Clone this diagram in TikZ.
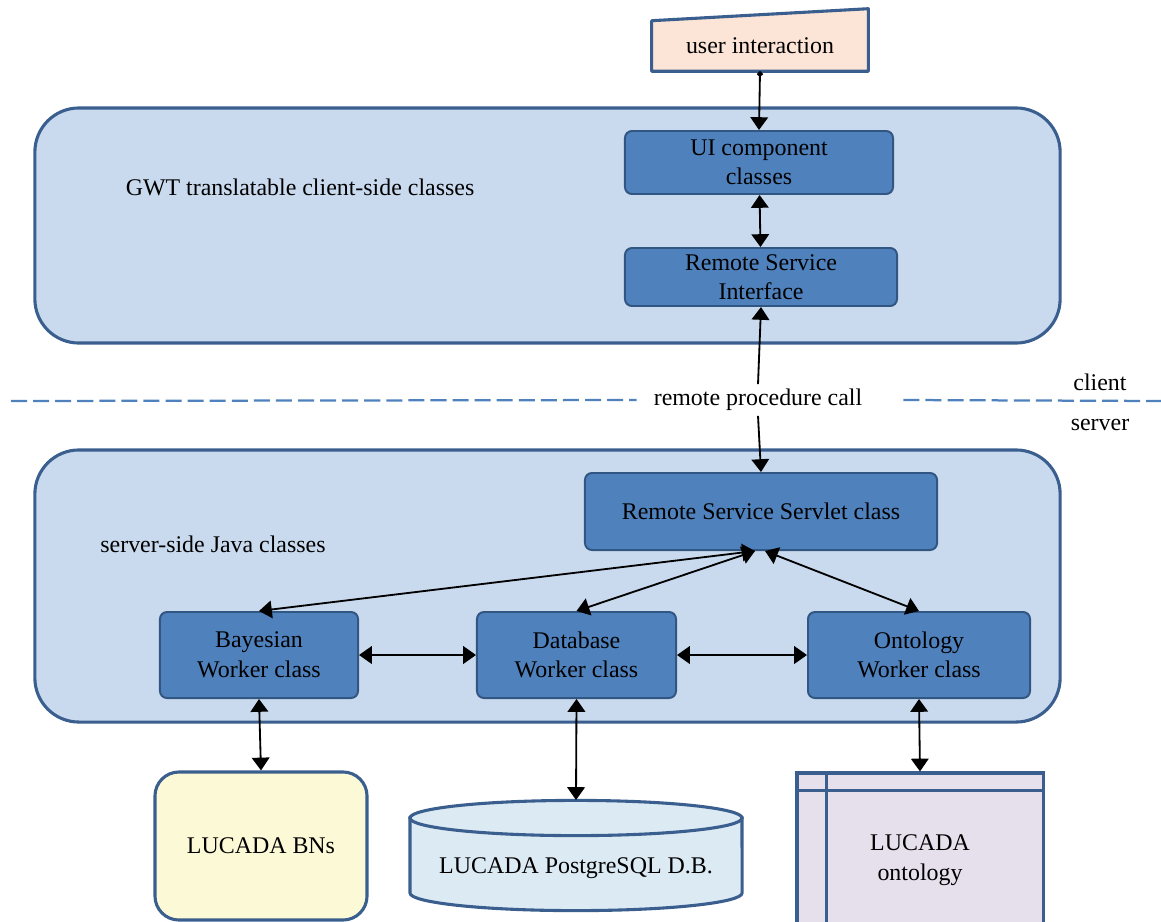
\documentclass[tikz,border=0pt]{standalone}
\usepackage{fontspec}
\setmainfont{Liberation Serif}
\usetikzlibrary{arrows.meta, positioning, shapes.geometric}
\definecolor{frameblue}{RGB}{58,95,143}
\definecolor{panelblue}{RGB}{201,218,238}
\definecolor{classblue}{RGB}{79,129,189}
\definecolor{classedge}{RGB}{50,86,130}
\definecolor{peach}{RGB}{252,228,214}
\definecolor{paleyellow}{RGB}{252,249,214}
\definecolor{dbblue}{RGB}{220,234,244}
\definecolor{lavender}{RGB}{229,224,236}
\definecolor{dashblue}{RGB}{79,129,189}

\begin{document}
\begin{tikzpicture}[x=0.025cm, y=-0.025cm, font=\fontsize{17}{21}\selectfont,
  panel/.style={draw=frameblue, line width=2.2pt, fill=panelblue, rounded corners=1.1cm},
  cls/.style={draw=classedge, line width=1.4pt, fill=classblue, rounded corners=5pt, align=center, inner sep=2pt},
  store/.style={draw=frameblue, line width=2.2pt, align=center},
  link/.style={{Triangle[length=3.2mm, width=4.4mm]}-{Triangle[length=3.2mm, width=4.4mm]}, line width=1.3pt},
  uplink/.style={-{Triangle[length=3.2mm, width=4.4mm]}, line width=1.3pt}]
  \useasboundingbox (0,0) rectangle (1161,921);

  % client side
  \node[panel, minimum width=25.625cm, minimum height=5.875cm] (client) at (547.5,225.5) {};
  \node (gwt) at (300,187) {GWT translatable client-side classes};
  \node[cls, minimum width=6.7cm, minimum height=1.575cm] (uic) at (759,162.5) {UI component\\classes};
  \node[cls, minimum width=6.8cm, minimum height=1.45cm] (rsi) at (761,277) {Remote Service\\Interface};

  % user interaction (manual input shape)
  \node[minimum width=5.4cm, minimum height=1.25cm] (user) at (760,46) {};
  \fill[peach] (user.north west) -- ([yshift=0.3cm]user.north east) -- (user.south east) -- (user.south west) -- cycle;
  \draw[frameblue, line width=2.2pt, line join=round] (user.north west) -- ([yshift=0.3cm]user.north east) -- (user.south east) -- (user.south west) -- cycle;
  \node at (user) {user interaction};

  % client / server split
  \node[inner xsep=12pt] (rpc) at (758,400) {remote procedure call};
  \node (clientlbl) at (1100,382) {client};
  \node (serverlbl) at (1100,425) {server};
  \coordinate (dashl) at (11,401);
  \coordinate (dashr) at (1161,401);
  \draw[dashblue, line width=1.6pt, dash pattern=on 11.4pt off 4.3pt] (dashl) -- (rpc.west);
  \draw[dashblue, line width=1.6pt, dash pattern=on 11.4pt off 4.3pt] ([xshift=0.6cm]rpc.east) -- (dashr);

  % server side
  \node[panel, minimum width=25.625cm, minimum height=6.8cm] (server) at (547.5,586) {};
  \node (ssj) at (213,544) {server-side Java classes};
  \node[cls, minimum width=8.8cm, minimum height=1.925cm] (servlet) at (761,511.5) {Remote Service Servlet class};
  \node[cls, minimum width=4.95cm, minimum height=2.15cm] (bay) at (259,655) {Bayesian\\Worker class};
  \node[cls, minimum width=4.975cm, minimum height=2.15cm] (dbw) at (576.5,655) {Database\\Worker class};
  \node[cls, minimum width=5.55cm, minimum height=2.15cm] (ont) at (919,655) {Ontology\\Worker class};

  % data stores
  \node[store, fill=paleyellow, rounded corners=0.6cm, minimum width=5.3cm, minimum height=3.7cm] (bns) at (261,846) {LUCADA BNs};
  \node[store, fill=lavender, minimum width=6.15cm, minimum height=4.35cm] (onto) at (920,860) {};
  \draw[frameblue, line width=2.2pt] ([yshift=-0.475cm]onto.north west) -- ([yshift=-0.475cm]onto.north east);
  \draw[frameblue, line width=2.2pt] ([xshift=0.775cm]onto.north west) -- ([xshift=0.775cm]onto.south west);
  \node[align=center] (ontotxt) at (920,860) {LUCADA\\ontology};
  \filldraw[fill=dbblue, draw=frameblue, line width=2.2pt] (410,818) -- (410,893) arc[start angle=180, end angle=360, x radius=4.15cm, y radius=0.44cm] -- (742,818) -- cycle;
  \filldraw[fill=dbblue, draw=frameblue, line width=2.2pt] (576,818) ellipse[x radius=4.15cm, y radius=0.44cm];
  \node (pgdb) at (576,868) {LUCADA PostgreSQL D.B.};
  \coordinate (pgtop) at (576,800);

  % connectors
  \draw[{Circle[length=1.4mm]}-{Triangle[length=3.2mm, width=4.4mm]}, line width=1.3pt] (user.south) -- (uic.north);
  \draw[link] (uic) -- (rsi);
  \draw[uplink] (rpc.north) -- (rsi.south);
  \draw[uplink] (rpc.south) -- (servlet.north);
  \draw[link] ([xshift=-0.15cm]servlet.south) -- (bay.north);
  \draw[link] ([xshift=-0.15cm]servlet.south) -- (dbw.north);
  \draw[link] ([xshift=0.1cm]servlet.south) -- (ont.north);
  \draw[link] (bay) -- (dbw);
  \draw[link] (dbw) -- (ont);
  \draw[link] (bay.south) -- (bns.north);
  \draw[link] (dbw.south) -- (pgtop);
  \draw[link] (ont.south) -- (onto.north);
\end{tikzpicture}
\end{document}
